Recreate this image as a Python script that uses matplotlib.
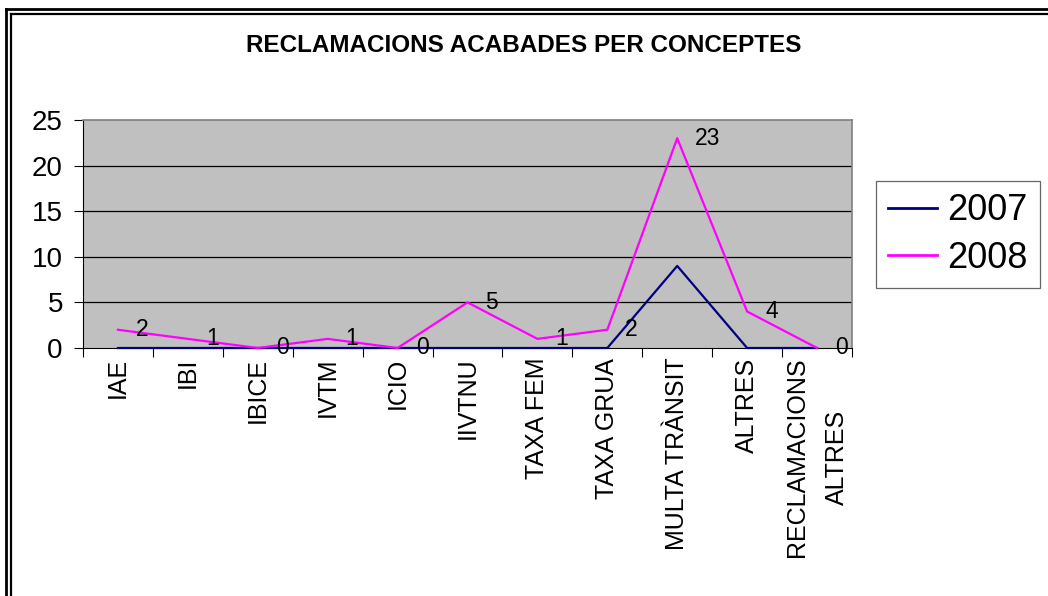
"""
Line chart: reclamacions acabades per conceptes, 2007 vs 2008.
Output: out.png
"""

import matplotlib
matplotlib.use("Agg")
import matplotlib.pyplot as plt
from matplotlib.lines import Line2D

OUT = "out.png"

CATS = ["IAE", "IBI", "IBICE", "IVTM", "ICIO", "IIVTNU", "TAXA FEM",
        "TAXA GRUA", "MULTA TRÀNSIT", "ALTRES", "RECLAMACIONS\nALTRES"]
V2007 = [0, 0, 0, 0, 0, 0, 0, 0, 9, 0, 0]
V2008 = [2, 1, 0, 1, 0, 5, 1, 2, 23, 4, 0]
YTICKS = [0, 5, 10, 15, 20, 25]

plt.rcParams["font.family"] = ["Liberation Sans", "DejaVu Sans"]

W, H = 1048, 596


def main():
    fig = plt.figure(figsize=(W / 100, H / 100), dpi=100)
    ax = fig.add_axes([83 / W, 1 - 348 / H, (852 - 83) / W, (348 - 120) / H])
    ax.set_facecolor("#c0c0c0")

    x = list(range(len(CATS)))
    ax.plot(x, V2007, color="#000080", lw=1.6, label="2007", zorder=4, clip_on=False)
    ax.plot(x, V2008, color="#ff00ff", lw=1.6, label="2008", zorder=5, clip_on=False)
    for xi, v in zip(x, V2008):
        ax.annotate(str(v), (xi, v), xytext=(13, 0), textcoords="offset points",
                    ha="left", va="center", fontsize=16.5, zorder=6,
                    annotation_clip=False)

    ax.set_xlim(-0.5, len(CATS) - 0.5)
    ax.set_ylim(0, 25)
    ax.set_yticks(YTICKS)
    ax.set_yticklabels([str(t) for t in YTICKS], fontsize=20)
    for t in YTICKS[1:-1]:
        ax.axhline(t, color="black", lw=0.9, zorder=1)

    # category boundaries as ticks, names centred between them
    ax.set_xticks([i - 0.5 for i in range(len(CATS) + 1)])
    ax.set_xticklabels([])
    ax.set_xticks(x, minor=True)
    ax.set_xticklabels(CATS, minor=True, rotation=90, fontsize=18,
                       va="top", ha="center", multialignment="center",
                       linespacing=1.8)
    ax.tick_params(axis="x", which="major", direction="out", length=6.5, width=0.8)
    ax.tick_params(axis="x", which="minor", length=0, pad=7)
    ax.tick_params(axis="y", direction="out", length=6.5, width=0.8, pad=8)

    for s in ("top", "right"):
        ax.spines[s].set_color("#808080")
        ax.spines[s].set_linewidth(1.2)
    for s in ("left", "bottom"):
        ax.spines[s].set_color("black")
        ax.spines[s].set_linewidth(0.8)

    fig.text(0.5, 1 - 45 / H, "RECLAMACIONS ACABADES PER CONCEPTES",
             ha="center", va="center", fontsize=17.5, fontweight="bold")

    leg = ax.legend(loc="center", bbox_to_anchor=(958 / W, 1 - 234.5 / H),
                    bbox_transform=fig.transFigure, fontsize=26, frameon=True,
                    fancybox=False, borderpad=0.35, handlelength=1.36,
                    handletextpad=0.28, labelspacing=0.35, borderaxespad=0)
    leg.get_frame().set_edgecolor("#404040")
    leg.get_frame().set_linewidth(0.9)
    for h in leg.get_lines():
        h.set_linewidth(2.0)

    # double border along the top and left edges
    for px, lw in ((9, 2.0), (14, 1.6)):
        fig.add_artist(Line2D([px / W - 3 / W, 1], [1 - px / H, 1 - px / H],
                              color="black", lw=lw, transform=fig.transFigure))
    for px, lw in ((6, 2.0), (11, 1.6)):
        top = 9 if px == 6 else 14
        fig.add_artist(Line2D([px / W, px / W], [0, 1 - top / H],
                              color="black", lw=lw, transform=fig.transFigure))

    fig.savefig(OUT, dpi=100)


if __name__ == "__main__":
    main()
